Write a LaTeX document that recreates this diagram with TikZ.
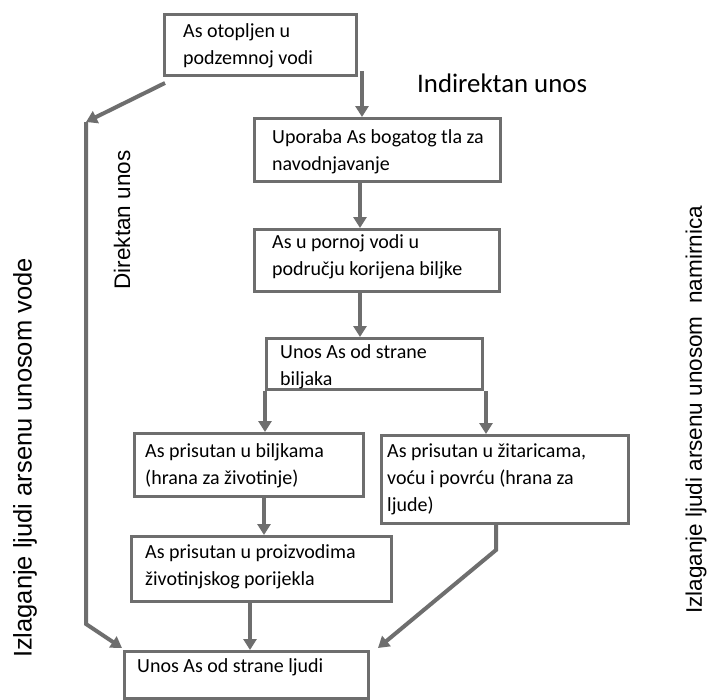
\documentclass[tikz,border=0pt]{standalone}
\usepackage{fontspec}
\setmainfont{Carlito}
\newfontfamily\arialf{Liberation Sans}
\usetikzlibrary{arrows.meta,calc}
\definecolor{linegray}{HTML}{6E6E6E}
\begin{document}
\begin{tikzpicture}[x=1pt,y=-1pt,
 box/.style={draw=linegray, line width=3pt, rectangle, inner sep=0pt, anchor=north west, fill=white},
 txt/.style={anchor=north west, inner sep=0pt, align=left, font=\fontsize{20}{27}\selectfont, text=black},
 arr/.style={draw=linegray, line width=4pt, -{Triangle[width=13pt,length=11pt]}},
 side/.style={font=\arialf\fontsize{22.5}{27}\selectfont, rotate=90, inner sep=0pt, text=black},
]
\fill[white] (0,0) rectangle (707,699);
\useasboundingbox (0,0) rectangle (707,699);

% boxes
\node[box, minimum width=192pt, minimum height=61pt] (b1) at (163,13) {};
\node[box, minimum width=246pt, minimum height=63pt] (b2) at (253,117) {};
\node[box, minimum width=245pt, minimum height=62pt] (b3) at (253,228) {};
\node[box, minimum width=216pt, minimum height=51pt] (b4) at (265,337) {};
\node[box, minimum width=229pt, minimum height=63pt] (b5) at (133,432) {};
\node[box, minimum width=247pt, minimum height=88pt] (b6) at (380,434) {};
\node[box, minimum width=260pt, minimum height=65pt] (b7) at (130,535) {};
\node[box, minimum width=244pt, minimum height=47pt] (b8) at (123,650) {};

% box texts
\node[txt] (t1) at (183,18.1) {\strut As otopljen u\\podzemnoj vodi};
\node[txt] (t2) at (272,124.1) {\strut Uporaba As bogatog tla za\\navodnjavanje};
\node[txt] (t3) at (272,229.1) {\strut As u pornoj vodi u\\području korijena biljke};
\node[txt] (t4) at (280,339.1) {\strut Unos As od strane\\biljaka};
\node[txt] (t5) at (145,438.1) {\strut As prisutan u biljkama\\(hrana za životinje)};
\node[txt] (t6) at (387,438.1) {\strut As prisutan u žitaricama,\\voću i povrću (hrana za\\ljude)};
\node[txt] (t7) at (145,539.1) {\strut As prisutan u proizvodima\\životinjskog porijekla};
\node[txt] (t8) at (137,653.1) {\strut Unos As od strane ljudi};

% connectors
\coordinate (p1) at ($(b1.south east)+(4,-6)$);
\draw[arr] (p1) -- (p1 |- b2.north);
\coordinate (a2) at ([xshift=107pt]b2.south west);
\draw[arr] (a2) -- (a2 |- b3.north);
\coordinate (a3) at ([xshift=107pt]b3.south west);
\draw[arr] (a3) -- (a3 |- b4.north);
\draw[arr] (b4.south west) -- (b4.south west |- b5.north);
\coordinate (a4) at ([xshift=2pt]b4.south east);
\draw[arr] (a4) -- (a4 |- b6.north);
\coordinate (a5) at ([xshift=131pt]b5.south west);
\draw[arr] (a5) -- (a5 |- b7.north);
\coordinate (a7) at ([xshift=120pt]b7.south west);
\draw[arr] (a7) -- (a7 |- b8.north);
\coordinate (a6) at ([xshift=116pt]b6.south west);
\coordinate (k6) at ([yshift=-25pt]a6);
\coordinate (e6) at ([xshift=8pt,yshift=2pt]b8.north east);
\draw[arr] (a6) -- (k6) -- (e6);
\coordinate (l0) at ([xshift=2pt,yshift=-6pt]b1.south west);
\coordinate (l1) at (86,122);
\coordinate (l2) at (86,624);
\coordinate (e8) at ([xshift=-1pt,yshift=2pt]b8.north west);
\draw[arr] (l0) -- (l1);
\draw[arr] (l1) -- (l2) -- (e8);

% labels
\node[font=\fontsize{26.8}{30}\selectfont, anchor=base west, inner sep=0pt, text=black] (ind) at (417,92) {Indirektan unos};
\node[side] (dir) at (122,220) {Direktan unos};
\node[side, font=\arialf\fontsize{25.5}{30}\selectfont] (lv) at (25,458) {Izlaganje ljudi arsenu unosom vode};
\node[side] (rn) at (696,410) {Izlaganje ljudi arsenu unosom\ \ namirnica};
\end{tikzpicture}
\end{document}
